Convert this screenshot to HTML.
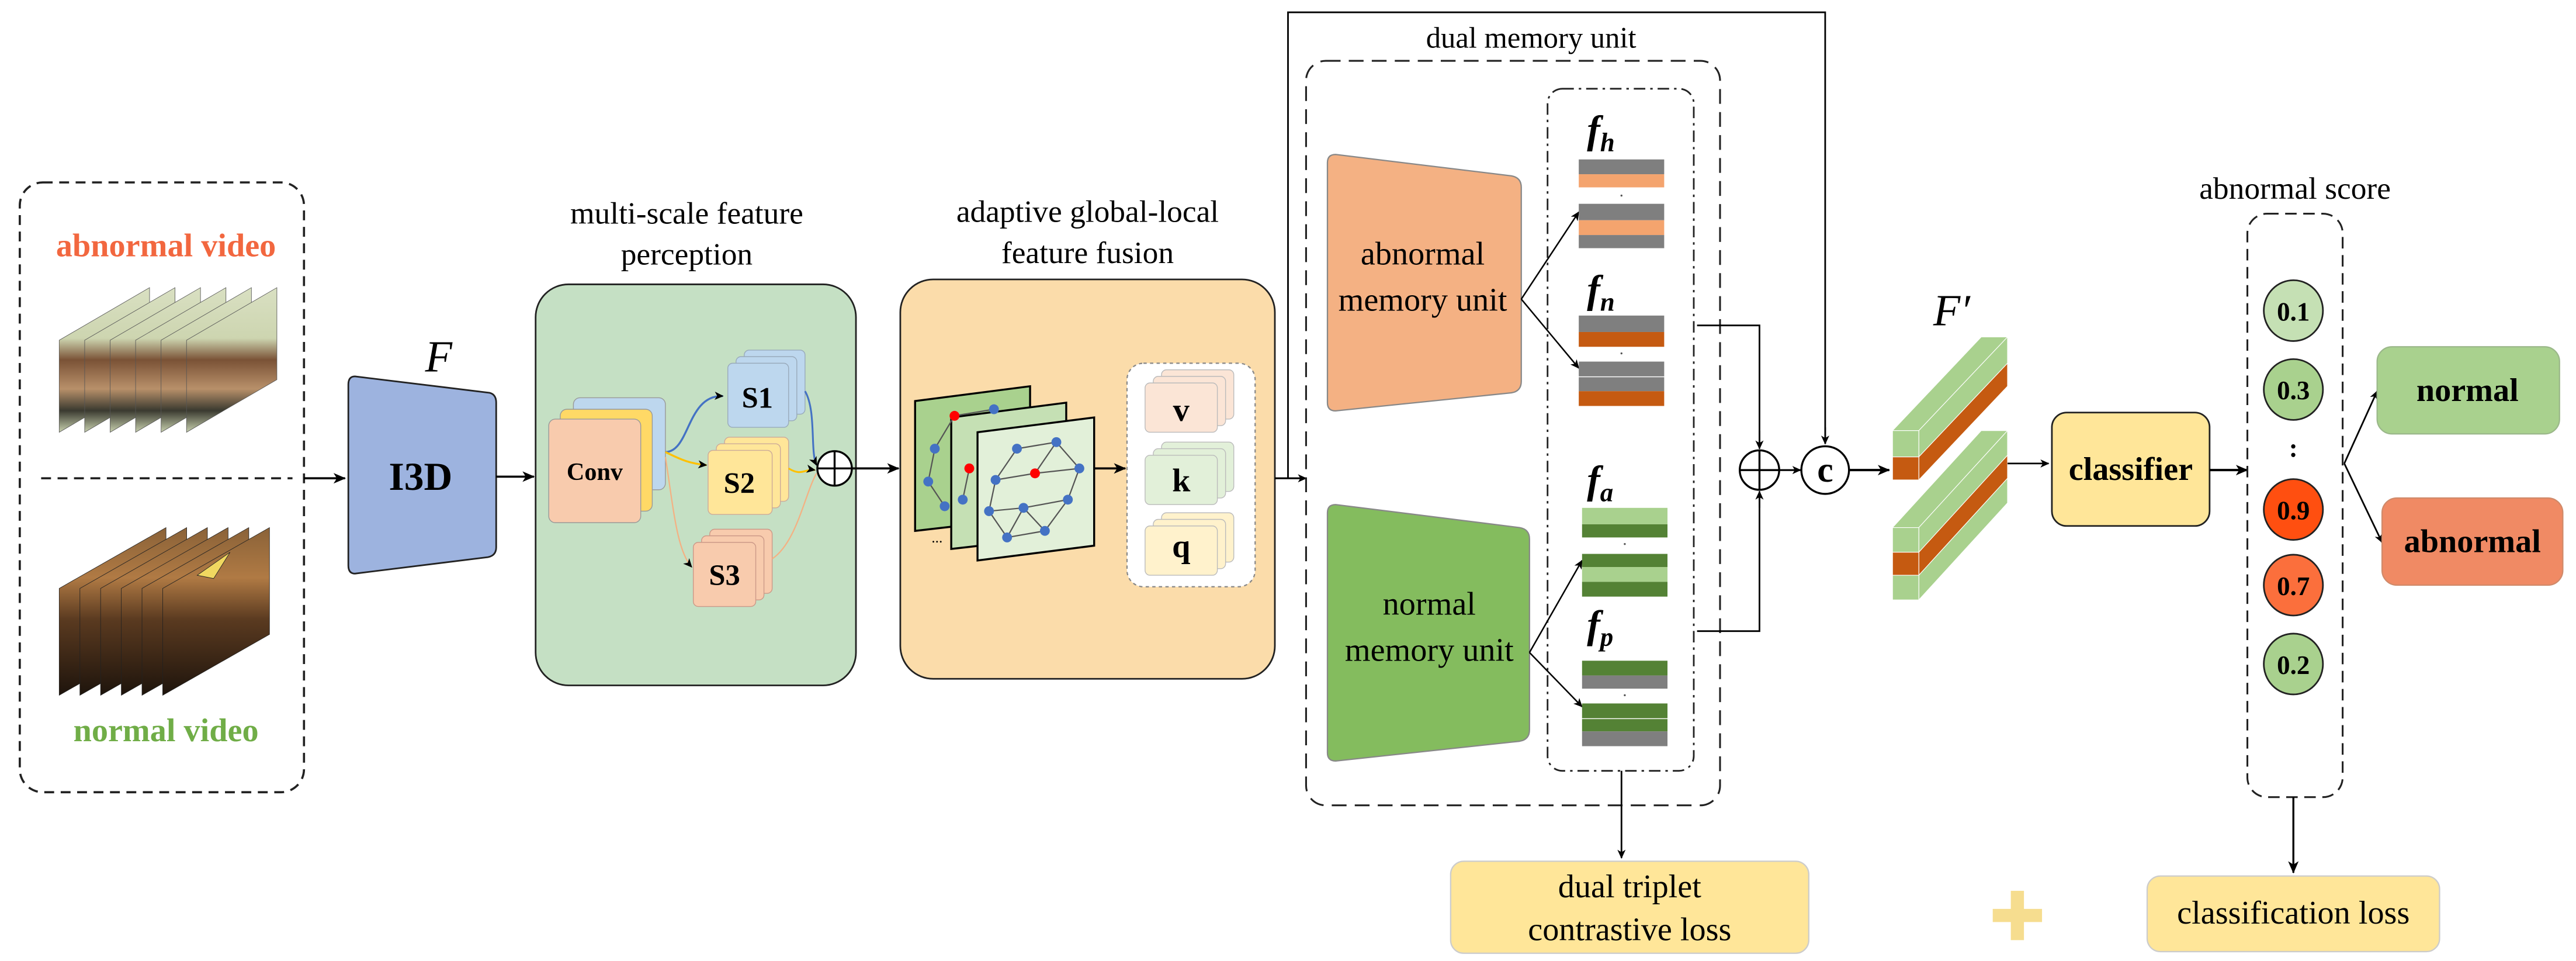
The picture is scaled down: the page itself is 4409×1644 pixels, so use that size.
<!DOCTYPE html>
<html><head><meta charset="utf-8"><style>
html,body{margin:0;padding:0;background:#fff;}
svg{display:block;font-family:"Liberation Serif","DejaVu Serif",serif;}
svg text{font-family:"Liberation Serif","DejaVu Serif",serif;}
</style></head><body>
<svg width="4409" height="1644" viewBox="0 0 1568 584.7" xmlns="http://www.w3.org/2000/svg" font-family="Liberation Serif, DejaVu Serif, serif">
<defs>
<marker id="ah" markerWidth="8" markerHeight="8" refX="7" refY="4" orient="auto" markerUnits="userSpaceOnUse"><path d="M0,0.8 L7.5,4 L0,7.2 L2,4 Z" fill="#000"/></marker>
<marker id="ahs" markerWidth="6" markerHeight="6" refX="5" refY="3" orient="auto" markerUnits="userSpaceOnUse"><path d="M0,0.5 L5.5,3 L0,5.5 L1.5,3 Z" fill="#000"/></marker>
<linearGradient id="ga" x1="0" y1="0" x2="0" y2="1">
<stop offset="0" stop-color="#d9e0c2"/><stop offset="0.35" stop-color="#cdd5b0"/><stop offset="0.5" stop-color="#7a5236"/><stop offset="0.7" stop-color="#b8906a"/><stop offset="0.85" stop-color="#3a3a30"/><stop offset="1" stop-color="#c8d0ae"/></linearGradient>
<linearGradient id="gn" x1="0" y1="0" x2="0" y2="1">
<stop offset="0" stop-color="#8a6238"/><stop offset="0.3" stop-color="#b07a44"/><stop offset="0.55" stop-color="#5a3a20"/><stop offset="1" stop-color="#1e140c"/></linearGradient>
</defs>

<rect x="12" y="111" width="173" height="371" rx="14" fill="none" stroke="#222" stroke-width="1.3" stroke-dasharray="6,4"/>
<text x="101" y="156" font-size="20" font-weight="bold" fill="#f2673f" text-anchor="middle">abnormal video</text>
<text x="101" y="451" font-size="20" font-weight="bold" fill="#70ad47" text-anchor="middle">normal video</text>
<line x1="25" y1="291" x2="178" y2="291" stroke="#222" stroke-width="1.3" stroke-dasharray="6,4"/>
<g stroke="#555" stroke-width="0.3">
<polygon points="36,207 91,175 91,231 36,263" fill="url(#ga)"/>
<polygon points="51.5,207 106.5,175 106.5,231 51.5,263" fill="url(#ga)"/>
<polygon points="67,207 122,175 122,231 67,263" fill="url(#ga)"/>
<polygon points="82.5,207 137.5,175 137.5,231 82.5,263" fill="url(#ga)"/>
<polygon points="98,207 153,175 153,231 98,263" fill="url(#ga)"/>
<polygon points="113.5,207 168.5,175 168.5,231 113.5,263" fill="url(#ga)"/>
</g>
<g stroke="#222" stroke-width="0.3">
<polygon points="36,358 101,321 101,386 36,423" fill="url(#gn)"/>
<polygon points="48.6,358 113.6,321 113.6,386 48.6,423" fill="url(#gn)"/>
<polygon points="61.2,358 126.2,321 126.2,386 61.2,423" fill="url(#gn)"/>
<polygon points="73.8,358 138.8,321 138.8,386 73.8,423" fill="url(#gn)"/>
<polygon points="86.4,358 151.4,321 151.4,386 86.4,423" fill="url(#gn)"/>
<polygon points="99,358 164,321 164,386 99,423" fill="url(#gn)"/>
<polygon points="120,350 140,336 130,352" fill="#f0d860"/>
</g>
<line x1="185" y1="291" x2="210" y2="291" stroke="#000" stroke-width="1.3" marker-end="url(#ah)"/>

<text x="267" y="226" font-size="27" font-style="italic" text-anchor="middle">F</text>
<path d="M216,229 L298,239 Q302,240 302,245 L302,333 Q302,338 297,339 L216,349 Q212,349 212,344 L212,234 Q212,229 216,229 Z" fill="#9db3df" stroke="#222" stroke-width="1"/>
<text x="256" y="298" font-size="24" font-weight="bold" text-anchor="middle">I3D</text>
<line x1="302" y1="290" x2="325" y2="290" stroke="#000" stroke-width="1.3" marker-end="url(#ah)"/>

<text x="418" y="136" font-size="19" text-anchor="middle">multi-scale feature</text>
<text x="418" y="161" font-size="19" text-anchor="middle">perception</text>
<rect x="326" y="173" width="195" height="244" rx="20" fill="#c5e0c4" stroke="#222" stroke-width="1"/>
<rect x="349" y="242" width="56" height="56" rx="4" fill="#bdd7ee" stroke="#999" stroke-width="0.5"/>
<rect x="341" y="249" width="56" height="62" rx="4" fill="#ffd966" stroke="#999" stroke-width="0.5"/>
<rect x="334" y="255" width="56" height="63" rx="4" fill="#f8cbad" stroke="#999" stroke-width="0.5"/>
<text x="362" y="292" font-size="15" font-weight="bold" text-anchor="middle">Conv</text>
<rect x="453" y="213" width="37" height="39" rx="3" fill="#bdd7ee" stroke="#9ab" stroke-width="0.5"/>
<rect x="448" y="217" width="37" height="39" rx="3" fill="#bdd7ee" stroke="#9ab" stroke-width="0.5"/>
<rect x="443" y="221" width="37" height="39" rx="3" fill="#bdd7ee" stroke="#9ab" stroke-width="0.5"/>
<text x="461" y="248" font-size="18" font-weight="bold" text-anchor="middle">S1</text>
<rect x="441" y="266" width="39" height="39" rx="3" fill="#ffe699" stroke="#ca9" stroke-width="0.5"/>
<rect x="436" y="270" width="39" height="39" rx="3" fill="#ffe699" stroke="#ca9" stroke-width="0.5"/>
<rect x="431" y="274" width="39" height="39" rx="3" fill="#ffe699" stroke="#ca9" stroke-width="0.5"/>
<text x="450" y="300" font-size="18" font-weight="bold" text-anchor="middle">S2</text>
<rect x="432" y="322" width="38" height="39" rx="3" fill="#f8cbad" stroke="#c98" stroke-width="0.5"/>
<rect x="427" y="326" width="38" height="39" rx="3" fill="#f8cbad" stroke="#c98" stroke-width="0.5"/>
<rect x="422" y="330" width="38" height="39" rx="3" fill="#f8cbad" stroke="#c98" stroke-width="0.5"/>
<text x="441" y="356" font-size="18" font-weight="bold" text-anchor="middle">S3</text>
<path d="M405,275 C420,275 418,240 440,241" fill="none" stroke="#4472c4" stroke-width="1.2" marker-end="url(#ahs)"/>
<path d="M405,275 C415,280 420,282 430,283" fill="none" stroke="#ffc000" stroke-width="1.2" marker-end="url(#ahs)"/>
<path d="M405,278 C410,310 412,335 421,345" fill="none" stroke="#f4b183" stroke-width="0.8" marker-end="url(#ahs)"/>
<path d="M490,238 C497,250 493,275 497,283" fill="none" stroke="#4472c4" stroke-width="1.1" marker-end="url(#ahs)"/>
<path d="M480,285 C488,290 490,285 496,286" fill="none" stroke="#ffc000" stroke-width="1.1" marker-end="url(#ahs)"/>
<path d="M470,340 C485,330 490,300 497,288" fill="none" stroke="#f4b183" stroke-width="0.8"/>
<circle cx="508" cy="285" r="10.5" fill="#fff" stroke="#000" stroke-width="1.2"/>
<line x1="497.5" y1="285" x2="518.5" y2="285" stroke="#000" stroke-width="1.2"/>
<line x1="508" y1="274.5" x2="508" y2="295.5" stroke="#000" stroke-width="1.2"/>
<line x1="518.5" y1="285" x2="547" y2="285" stroke="#000" stroke-width="1.3" marker-end="url(#ah)"/>

<text x="662" y="135" font-size="19" text-anchor="middle">adaptive global-local</text>
<text x="662" y="160" font-size="19" text-anchor="middle">feature fusion</text>
<rect x="548" y="170" width="228" height="243" rx="20" fill="#fbdcaa" stroke="#222" stroke-width="1"/>
<polygon points="557,244 627,235 627,315 557,323" fill="#a9d18e" stroke="#000" stroke-width="1.2"/>
<polygon points="579,254 649,245 649,326 579,334" fill="#c5e0b4" stroke="#000" stroke-width="1.2"/>
<polygon points="595,263 666,254 666,332 595,341" fill="#e2f0d9" stroke="#000" stroke-width="1.2"/>
<text x="567" y="330" font-size="9">...</text>
<g stroke="#555" stroke-width="0.8" fill="none">
<path d="M581,253 L569,273 L565,293 L575,308"/>
<path d="M581,253 L605,249"/>
<path d="M590,285 L586,304"/>
<path d="M619,273 L643,269 L657,285"/>
<path d="M619,273 L606,292 L602,311 L613,327 L636,323 L650,304 L657,285"/>
<path d="M606,292 L630,288 L657,285"/>
<path d="M630,288 L643,269"/>
<path d="M602,311 L623,309 L650,304"/>
<path d="M623,309 L636,323"/>
<path d="M623,309 L613,327"/>
</g>
<g fill="#4472c4">
<circle cx="569" cy="273" r="3"/><circle cx="565" cy="293" r="3"/><circle cx="575" cy="308" r="3"/><circle cx="605" cy="249" r="3"/><circle cx="586" cy="304" r="3"/>
<circle cx="619" cy="273" r="3"/><circle cx="643" cy="269" r="3"/><circle cx="657" cy="285" r="3"/><circle cx="606" cy="292" r="3"/><circle cx="602" cy="311" r="3"/><circle cx="623" cy="309" r="3"/><circle cx="650" cy="304" r="3"/><circle cx="613" cy="327" r="3"/><circle cx="636" cy="323" r="3"/>
</g>
<g fill="#ff0000"><circle cx="581" cy="253" r="3"/><circle cx="590" cy="285" r="3"/><circle cx="630" cy="288" r="3"/></g>
<line x1="666" y1="285" x2="685" y2="285" stroke="#000" stroke-width="1.3" marker-end="url(#ah)"/>
<rect x="686" y="221" width="78" height="136" rx="10" fill="#fff" stroke="#888" stroke-width="0.8" stroke-dasharray="2,2"/>
<rect x="707" y="225" width="44" height="30" rx="3" fill="#fbe5d6" stroke="#bbb" stroke-width="0.5"/>
<rect x="702" y="229" width="44" height="30" rx="3" fill="#fbe5d6" stroke="#bbb" stroke-width="0.5"/>
<rect x="697" y="233" width="44" height="30" rx="3" fill="#fbe5d6" stroke="#bbb" stroke-width="0.5"/>
<text x="719" y="256" font-size="20" font-weight="bold" text-anchor="middle">v</text>
<rect x="707" y="269" width="44" height="30" rx="3" fill="#e2f0d9" stroke="#bbb" stroke-width="0.5"/>
<rect x="702" y="273" width="44" height="30" rx="3" fill="#e2f0d9" stroke="#bbb" stroke-width="0.5"/>
<rect x="697" y="277" width="44" height="30" rx="3" fill="#e2f0d9" stroke="#bbb" stroke-width="0.5"/>
<text x="719" y="299" font-size="20" font-weight="bold" text-anchor="middle">k</text>
<rect x="707" y="312" width="44" height="30" rx="3" fill="#fff2cc" stroke="#bbb" stroke-width="0.5"/>
<rect x="702" y="316" width="44" height="30" rx="3" fill="#fff2cc" stroke="#bbb" stroke-width="0.5"/>
<rect x="697" y="320" width="44" height="30" rx="3" fill="#fff2cc" stroke="#bbb" stroke-width="0.5"/>
<text x="719" y="339" font-size="20" font-weight="bold" text-anchor="middle">q</text>
<line x1="776" y1="291" x2="795" y2="291" stroke="#000" stroke-width="1.1" marker-end="url(#ahs)"/>
<polyline points="784,291 784,7.5 1111,7.5 1111,270" fill="none" stroke="#000" stroke-width="1"/>
<line x1="1111" y1="260" x2="1111" y2="270" stroke="#000" stroke-width="1" marker-end="url(#ahs)"/>

<text x="932" y="29" font-size="18" text-anchor="middle">dual memory unit</text>
<rect x="795" y="37" width="252" height="453" rx="12" fill="none" stroke="#222" stroke-width="1.1" stroke-dasharray="9,5"/>
<rect x="942" y="54" width="89" height="415" rx="9" fill="none" stroke="#222" stroke-width="1" stroke-dasharray="7,3,1.5,3"/>
<path d="M813,94 L920,107 Q926,108 926,114 L926,232 Q926,238 920,239 L813,250 Q808,250 808,245 L808,99 Q808,94 813,94 Z" fill="#f4b183" stroke="#888" stroke-width="0.8"/>
<text x="866" y="161" font-size="20" text-anchor="middle">abnormal</text>
<text x="866" y="189" font-size="20" text-anchor="middle">memory unit</text>
<path d="M813,307 L925,321 Q931,322 931,328 L931,444 Q931,450 925,451 L813,463 Q808,463 808,458 L808,312 Q808,307 813,307 Z" fill="#84bc5e" stroke="#888" stroke-width="0.8"/>
<text x="870" y="374" font-size="20" text-anchor="middle">normal</text>
<text x="870" y="402" font-size="20" text-anchor="middle">memory unit</text>
<g stroke="#000" stroke-width="0.9">
<line x1="926" y1="182" x2="961" y2="129" marker-end="url(#ahs)"/>
<line x1="926" y1="182" x2="961" y2="224" marker-end="url(#ahs)"/>
<line x1="931" y1="397" x2="963" y2="341" marker-end="url(#ahs)"/>
<line x1="931" y1="397" x2="963" y2="430" marker-end="url(#ahs)"/>
</g>
<g font-size="24" font-weight="bold" font-style="italic">
<text x="966" y="87">f<tspan font-size="16" dy="5">h</tspan></text>
<text x="966" y="184">f<tspan font-size="16" dy="5">n</tspan></text>
<text x="966" y="300">f<tspan font-size="16" dy="5">a</tspan></text>
<text x="966" y="388">f<tspan font-size="16" dy="5">p</tspan></text>
</g>
<g>
<rect x="961" y="97" width="52" height="9" fill="#7f7f7f"/><rect x="961" y="106" width="52" height="8" fill="#f4a46e"/>
<rect x="961" y="124" width="52" height="10" fill="#7f7f7f"/><rect x="961" y="134" width="52" height="9" fill="#f4a46e"/><rect x="961" y="143" width="52" height="8" fill="#7f7f7f"/>
<rect x="961" y="192" width="52" height="10" fill="#7f7f7f"/><rect x="961" y="202" width="52" height="9" fill="#c55a11"/>
<rect x="961" y="220" width="52" height="9" fill="#7f7f7f"/><rect x="961" y="229.5" width="52" height="8.5" fill="#7f7f7f"/><rect x="961" y="238" width="52" height="9" fill="#c55a11"/>
<rect x="963" y="309" width="52" height="10" fill="#a9d18e"/><rect x="963" y="319" width="52" height="8" fill="#548235"/>
<rect x="963" y="337" width="52" height="8" fill="#548235"/><rect x="963" y="345" width="52" height="9" fill="#a9d18e"/><rect x="963" y="354" width="52" height="9" fill="#548235"/>
<rect x="963" y="402" width="52" height="9" fill="#548235"/><rect x="963" y="411" width="52" height="8" fill="#7f7f7f"/>
<rect x="963" y="428" width="52" height="9" fill="#548235"/><rect x="963" y="437.5" width="52" height="7.5" fill="#548235"/><rect x="963" y="445" width="52" height="9" fill="#7f7f7f"/>
</g>
<g fill="#555"><circle cx="987" cy="119" r="0.6"/><circle cx="987" cy="215" r="0.6"/><circle cx="989" cy="331" r="0.6"/><circle cx="989" cy="423" r="0.6"/></g>
<polyline points="1033,198 1071,198 1071,272" fill="none" stroke="#000" stroke-width="1"/>
<line x1="1071" y1="262" x2="1071" y2="273" stroke="#000" stroke-width="1" marker-end="url(#ahs)"/>
<polyline points="1033,384 1071,384 1071,299" fill="none" stroke="#000" stroke-width="1"/>
<line x1="1071" y1="309" x2="1071" y2="299" stroke="#000" stroke-width="1" marker-end="url(#ahs)"/>
<circle cx="1071" cy="286" r="12" fill="#fff" stroke="#000" stroke-width="1.2"/>
<line x1="1059" y1="286" x2="1083" y2="286" stroke="#000" stroke-width="1.2"/>
<line x1="1071" y1="274" x2="1071" y2="298" stroke="#000" stroke-width="1.2"/>
<line x1="1083" y1="286" x2="1096" y2="286" stroke="#000" stroke-width="1.1" marker-end="url(#ahs)"/>
<circle cx="1111" cy="286" r="14.5" fill="#fff" stroke="#000" stroke-width="1.2"/>
<text x="1111" y="293" font-size="22" font-weight="bold" text-anchor="middle">c</text>
<line x1="1125.5" y1="286" x2="1150" y2="286" stroke="#000" stroke-width="1.4" marker-end="url(#ah)"/>
<line x1="987" y1="469" x2="987" y2="522" stroke="#000" stroke-width="1" marker-end="url(#ahs)"/>
<rect x="883" y="524" width="218" height="56" rx="8" fill="#ffe699" stroke="#ccc" stroke-width="0.8"/>
<text x="992" y="546" font-size="20" text-anchor="middle">dual triplet</text>
<text x="992" y="572" font-size="20" text-anchor="middle">contrastive loss</text>

<text x="1188" y="198" font-size="27" font-style="italic" text-anchor="middle">F′</text>
<g stroke="#fff" stroke-width="0.4">
<polygon points="1152,262 1168,262 1222,205 1206,205" fill="#a9d18e"/>
<polygon points="1168,262 1222,205 1222,221 1168,278" fill="#a9d18e"/>
<polygon points="1168,278 1222,221 1222,235 1168,292" fill="#c55a11"/>
<rect x="1152" y="262" width="16" height="16" fill="#a9d18e"/>
<rect x="1152" y="278" width="16" height="14" fill="#c55a11"/>
<polygon points="1152,321 1168,321 1222,262 1206,262" fill="#a9d18e"/>
<polygon points="1168,321 1222,262 1222,277 1168,336" fill="#a9d18e"/>
<polygon points="1168,336 1222,277 1222,291 1168,350" fill="#c55a11"/>
<polygon points="1168,350 1222,291 1222,306 1168,365" fill="#a9d18e"/>
<rect x="1152" y="321" width="16" height="15" fill="#a9d18e"/>
<rect x="1152" y="336" width="16" height="14" fill="#c55a11"/>
<rect x="1152" y="350" width="16" height="15" fill="#a9d18e"/>
</g>
<line x1="1222" y1="282" x2="1247" y2="282" stroke="#000" stroke-width="1" marker-end="url(#ahs)"/>
<rect x="1249" y="251" width="96" height="69" rx="9" fill="#ffe699" stroke="#222" stroke-width="1"/>
<text x="1297" y="292" font-size="20" font-weight="bold" text-anchor="middle">classifier</text>
<line x1="1345" y1="286" x2="1368" y2="286" stroke="#000" stroke-width="1.4" marker-end="url(#ah)"/>

<text x="1397" y="121" font-size="19" text-anchor="middle">abnormal score</text>
<rect x="1368" y="130" width="58" height="355" rx="12" fill="none" stroke="#222" stroke-width="1.1" stroke-dasharray="7,4"/>
<g stroke="#222" stroke-width="1">
<ellipse cx="1396" cy="189" rx="18" ry="18.5" fill="#c5e0b4"/>
<ellipse cx="1396" cy="237" rx="18" ry="18.5" fill="#a9d18e"/>
<ellipse cx="1396" cy="310" rx="18" ry="18.5" fill="#ff4f10"/>
<ellipse cx="1396" cy="356" rx="18" ry="18.5" fill="#fb6f3c"/>
<ellipse cx="1396" cy="404" rx="18" ry="18.5" fill="#a9d18e"/>
</g>
<g font-size="16" font-weight="bold" text-anchor="middle">
<text x="1396" y="195">0.1</text><text x="1396" y="243">0.3</text><text x="1396" y="316">0.9</text><text x="1396" y="362">0.7</text><text x="1396" y="410">0.2</text>
<text x="1396" y="278">:</text>
</g>
<line x1="1427" y1="282" x2="1447" y2="238" stroke="#000" stroke-width="1" marker-end="url(#ahs)"/>
<line x1="1427" y1="282" x2="1450" y2="330" stroke="#000" stroke-width="1" marker-end="url(#ahs)"/>
<rect x="1447" y="211" width="111" height="53" rx="9" fill="#a9d18e" stroke="#9bb88a" stroke-width="0.8"/>
<text x="1502" y="244" font-size="20" font-weight="bold" text-anchor="middle">normal</text>
<rect x="1450" y="303" width="110" height="53" rx="9" fill="#f08a64" stroke="#d08a6a" stroke-width="0.8"/>
<text x="1505" y="336" font-size="20" font-weight="bold" text-anchor="middle">abnormal</text>
<line x1="1396" y1="485" x2="1396" y2="531" stroke="#000" stroke-width="1.2" marker-end="url(#ah)"/>
<rect x="1307" y="533" width="178" height="46" rx="8" fill="#ffe699" stroke="#ccc" stroke-width="0.8"/>
<text x="1396" y="562" font-size="20" text-anchor="middle">classification loss</text>
<rect x="1224" y="542" width="8" height="30" fill="#f6dd8f"/>
<rect x="1213" y="553" width="30" height="8" fill="#f6dd8f"/>
</svg>
</body></html>
